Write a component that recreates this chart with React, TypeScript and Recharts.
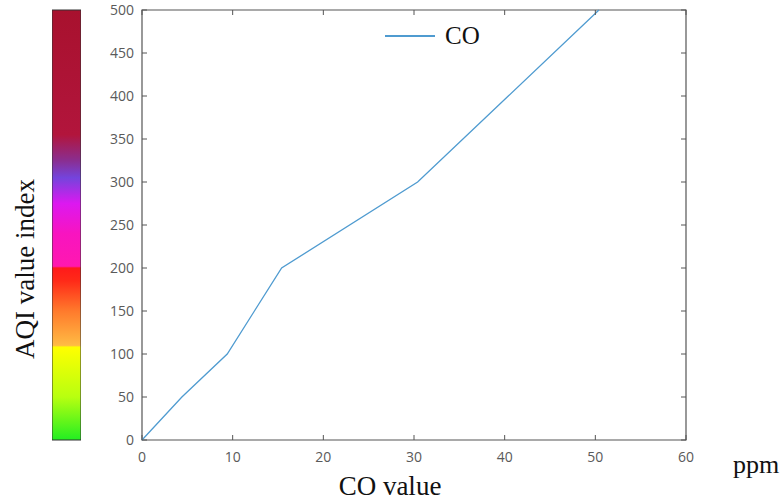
import React from "react";
import {
  Bar,
  BarChart,
  Line,
  LineChart,
  ReferenceArea,
  XAxis,
  YAxis,
} from "recharts";

// CO concentration (ppm) at each AQI breakpoint
const coPpm = [0, 4.4, 9.4, 12.4, 15.4, 30.4, 40.4, 50.4];
const aqiIndex = [0, 50, 100, 150, 200, 300, 400, 500];

const xTicks = [0, 10, 20, 30, 40, 50, 60];
const yTicks = [0, 50, 100, 150, 200, 250, 300, 350, 400, 450, 500];

// colour bar stops, by AQI value
const barAqi = [0, 50, 108, 110, 150, 185, 200, 202, 240, 275, 305, 325, 355, 500];
const barColors = [
  "#22ee22",
  "#b8ff10",
  "#ffff00",
  "#ffbb44",
  "#ff7a2c",
  "#ff2a18",
  "#ff1a1a",
  "#ff18b0",
  "#f814c0",
  "#dc18f0",
  "#7444dc",
  "#8a2e90",
  "#b2153c",
  "#a8112e",
];

const lineData = coPpm.map((co, i) => ({ co, aqi: aqiIndex[i] }));
const barData = [{ name: "AQI", value: 500 }];

const W = 783;
const H = 502;
const MARGIN = { top: 10, right: 97, bottom: 32, left: 112 };
const Y_AXIS_W = 30;
const PLOT_W = W - MARGIN.left - MARGIN.right - Y_AXIS_W;
const PLOT_H = H - MARGIN.top - MARGIN.bottom - 30;
const AXIS = "#555";
const TICK_LEN = 5;
const Y_GAP = 8;
const X_GAP = 12;
const TICK_FONT = "'Open Sans', sans-serif";
const LINE_COLOR = "#4f9bd0";
const SERIF = "'Liberation Serif', 'Times New Roman', serif";

// tick label plus inward tick marks on the left and right frame
function YTick(props: any) {
  const { x, y, payload } = props;
  const ax = x + Y_GAP;
  return (
    <g>
      <line x1={ax} y1={y} x2={ax + TICK_LEN} y2={y} stroke={AXIS} />
      <line x1={ax + PLOT_W} y1={y} x2={ax + PLOT_W - TICK_LEN} y2={y} stroke={AXIS} />
      <text x={x} y={y} dy="0.35em" textAnchor="end" fill="#5a5a5a" fontSize={14} fontFamily={TICK_FONT}>
        {payload.value}
      </text>
    </g>
  );
}

// tick label plus inward tick marks on the bottom and top frame
function XTick(props: any) {
  const { x, y, payload } = props;
  const ay = y - X_GAP;
  return (
    <g>
      <line x1={x} y1={ay} x2={x} y2={ay - TICK_LEN} stroke={AXIS} />
      <line x1={x} y1={ay - PLOT_H} x2={x} y2={ay - PLOT_H + TICK_LEN} stroke={AXIS} />
      <text x={x} y={y} dy="0.71em" textAnchor="middle" fill="#5a5a5a" fontSize={14} fontFamily={TICK_FONT}>
        {payload.value}
      </text>
    </g>
  );
}

export default function App() {
  return (
    <div style={{ position: "absolute", left: 0, top: 0, width: W, height: H, background: "#fff" }}>
      {/* colour scale on the left */}
      <div style={{ position: "absolute", left: 52, top: 0 }}>
        <BarChart
          width={29}
          height={H}
          data={barData}
          margin={{ top: 10, right: 0, bottom: 62, left: 0 }}
          barCategoryGap={0}
        >
          <defs>
            <linearGradient id="aqiGrad" x1="0" y1="0" x2="0" y2="1">
              {barAqi
                .map((a, i) => ({ a, c: barColors[i] }))
                .reverse()
                .map(({ a, c }) => (
                  <stop key={a} offset={`${((500 - a) / 500) * 100}%`} stopColor={c} />
                ))}
            </linearGradient>
          </defs>
          <XAxis dataKey="name" hide />
          <YAxis domain={[0, 500]} hide />
          <Bar
            dataKey="value"
            fill="url(#aqiGrad)"
            stroke="#333"
            strokeWidth={1}
            isAnimationActive={false}
          />
        </BarChart>
      </div>

      <div style={{ position: "absolute", left: 0, top: 0 }}>
        <LineChart width={W} height={H} data={lineData} margin={MARGIN}>
          <XAxis
            dataKey="co"
            type="number"
            domain={[0, 60]}
            ticks={xTicks}
            interval={0}
            axisLine={false}
            tickLine={false}
            tickSize={0}
            tickMargin={X_GAP}
            tick={<XTick />}
          />
          <YAxis
            dataKey="aqi"
            type="number"
            domain={[0, 500]}
            ticks={yTicks}
            interval={0}
            width={Y_AXIS_W}
            axisLine={false}
            tickLine={false}
            tickSize={0}
            tickMargin={Y_GAP}
            tick={<YTick />}
          />
          <ReferenceArea
            x1={0}
            x2={60}
            y1={0}
            y2={500}
            fill="none"
            stroke={AXIS}
            strokeWidth={1.2}
            ifOverflow="visible"
          />
          <Line
            dataKey="aqi"
            type="linear"
            stroke={LINE_COLOR}
            strokeWidth={1.3}
            dot={false}
            isAnimationActive={false}
          />
        </LineChart>
      </div>

      {/* legend */}
      <div
        style={{
          position: "absolute",
          left: 385,
          top: 22,
          display: "flex",
          alignItems: "center",
          fontFamily: SERIF,
          fontSize: 25,
          color: "#111",
        }}
      >
        <svg width={50} height={10}>
          <line x1={0} y1={5} x2={50} y2={5} stroke={LINE_COLOR} strokeWidth={2} />
        </svg>
        <span style={{ marginLeft: 10 }}>CO</span>
      </div>

      <div
        style={{
          position: "absolute",
          left: 25,
          top: 269,
          transform: "translate(-50%, -50%) rotate(-90deg)",
          whiteSpace: "nowrap",
          fontFamily: SERIF,
          fontSize: 27,
          color: "#111",
        }}
      >
        AQI value index
      </div>
      <div
        style={{
          position: "absolute",
          left: 390,
          top: 486,
          transform: "translate(-50%, -50%)",
          whiteSpace: "nowrap",
          fontFamily: SERIF,
          fontSize: 27,
          color: "#111",
        }}
      >
        CO value
      </div>
      <div
        style={{
          position: "absolute",
          left: 756,
          top: 465,
          transform: "translate(-50%, -50%)",
          fontFamily: SERIF,
          fontSize: 26,
          color: "#111",
        }}
      >
        ppm
      </div>
    </div>
  );
}
